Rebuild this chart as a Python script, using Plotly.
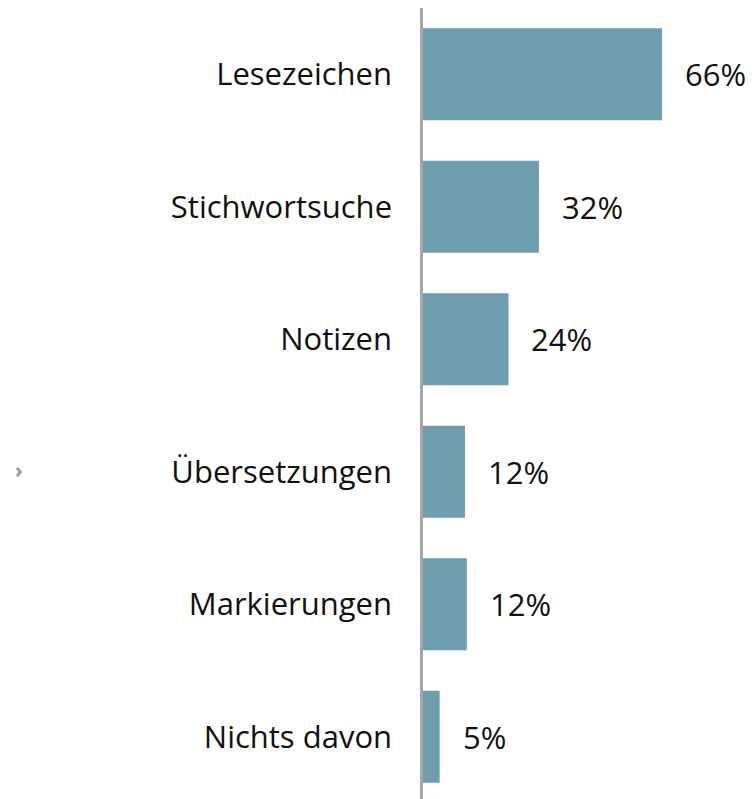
import plotly.graph_objects as go

categories = ["Lesezeichen", "Stichwortsuche", "Notizen", "Übersetzungen", "Markierungen", "Nichts davon"]
values = [66, 32, 23.6, 11.6, 12.1, 4.6]
labels = ["66%", "32%", "24%", "12%", "12%", "5%"]

BAR_COLOR = "#6e9dad"
FONT = "Open Sans"
FS = 31

fig = go.Figure()
fig.add_trace(go.Bar(
    x=values, y=categories, orientation="h",
    marker=dict(color=BAR_COLOR, line=dict(width=0)),
    hoverinfo="skip",
))

for c, v, t in zip(categories, values, labels):
    fig.add_annotation(x=v, y=c, text=t, showarrow=False, xanchor="left",
                       xshift=21, font=dict(family=FONT, size=FS, color="#111111"))

fig.add_annotation(x=-1.22, y=0.416, xref="paper", yref="paper", text="<b>›</b>", showarrow=False,
                   font=dict(family=FONT, size=21, color="#9a9a9a"), xanchor="center", yanchor="middle")

fig.update_layout(
    width=754, height=799,
    margin=dict(l=423, r=0, t=8, b=0, autoexpand=False),
    paper_bgcolor="white", plot_bgcolor="white",
    bargap=0.305,
    showlegend=False,
    font=dict(family=FONT, size=FS, color="#111111"),
)
fig.update_xaxes(range=[0, 91.4], visible=False, automargin=False)
fig.update_yaxes(range=[5.47, -0.5], showgrid=False, zeroline=False, automargin=False,
                 showline=True, linecolor="#a6a6a6", linewidth=2.5,
                 ticks="", ticklabelstandoff=22,
                 tickfont=dict(family=FONT, size=FS, color="#111111"))

fig.write_html("out.html", config={"displayModeBar": False},
               post_script="document.body.style.margin='0';document.body.style.overflow='hidden';")
